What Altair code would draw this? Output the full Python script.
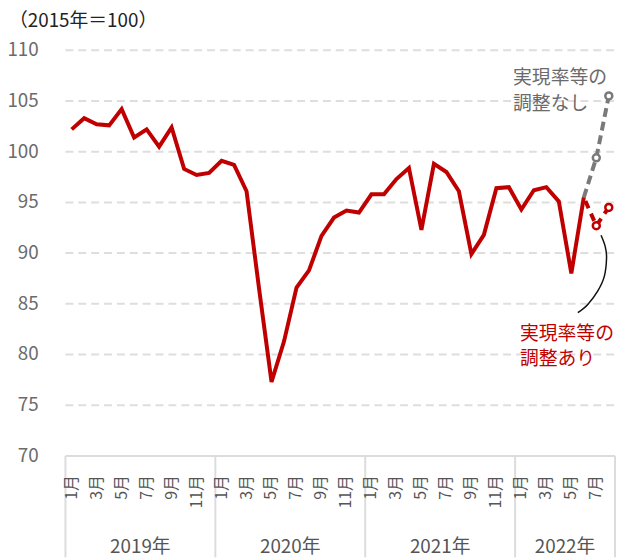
import altair as alt
import pandas as pd

FONT = "Noto Sans CJK JP"
RED = "#c00000"
GRAY = "#7a7a7a"

years = ["2019年", "2020年", "2021年", "2022年"]
year_lengths = [12, 12, 12, 8]
month_tick_labels = ["1月", "3月", "5月", "7月", "9月", "11月"]

# 2019/01 .. 2022/06 (実現率等の調整あり, 確報部分)
red_values = [
    102.2, 103.3, 102.7, 102.6, 104.2, 101.4, 102.2, 100.5, 102.4, 98.3, 97.7, 97.9,
    99.1, 98.7, 96.1, 86.5, 77.3, 81.3, 86.6, 88.3, 91.7, 93.5, 94.2, 94.0,
    95.8, 95.8, 97.3, 98.4, 92.3, 98.8, 98.0, 96.1, 89.9, 91.8, 96.4, 96.5,
    94.3, 96.2, 96.5, 95.1, 88.0, 95.5,
]
# 2022/06 .. 2022/08 予測
adj_forecast = [95.5, 92.7, 94.5]      # 実現率等の調整あり
noadj_forecast = [95.5, 99.4, 105.5]   # 実現率等の調整なし

y_ticks = [70, 75, 80, 85, 90, 95, 100, 105, 110]
grid_values = [75, 80, 85, 90, 95, 100, 105, 110]

# callout curve (month index, value)
callout_x = [42.38, 42.72, 42.82, 42.64, 42.11, 41.32, 40.52]
callout_y = [91.76, 90.62, 89.49, 87.70, 86.24, 84.94, 84.12]

# ---- tables ----
n_red = len(red_values)
df_red = pd.DataFrame({"m": list(range(n_red)), "v": red_values})
fx = [n_red - 1, n_red, n_red + 1]
df_adj = pd.DataFrame({"m": fx, "v": adj_forecast})
df_noadj = pd.DataFrame({"m": fx, "v": noadj_forecast})
df_callout = pd.DataFrame({"m": callout_x, "v": callout_y, "o": list(range(len(callout_x)))})

total = sum(year_lengths)
bounds = [-0.5]
for L in year_lengths:
    bounds.append(bounds[-1] + L)

year_rows, month_rows = [], []
start = 0
for yname, L in zip(years, year_lengths):
    year_rows.append({"m": start + (L - 1) / 2, "t": yname})
    for k in range(0, L, 2):
        month_rows.append({"m": start + k, "t": month_tick_labels[k // 2]})
    start += L
df_year = pd.DataFrame(year_rows)
df_month = pd.DataFrame(month_rows)
df_vsep = pd.DataFrame({"m": bounds, "v": [70] * len(bounds), "v2": [60] * len(bounds)})
df_top = pd.DataFrame({"m": [bounds[0]], "m2": [bounds[-1]], "v": [70]})
df_grid = pd.DataFrame({"m": [bounds[0]] * len(grid_values),
                        "m2": [bounds[-1]] * len(grid_values), "v": grid_values})
df_ylab = pd.DataFrame({"v": y_ticks, "t": [str(t) for t in y_ticks]})

xs = alt.Scale(domain=[-0.5, total - 0.5], nice=False, zero=False)
ys = alt.Scale(domain=[60, 110], nice=False, zero=False)

X = alt.X("m:Q", scale=xs, axis=None, title=None)
Y = alt.Y("v:Q", scale=ys, axis=None, title=None)

grid = alt.Chart(df_grid).mark_rule(
    color="#dedede", strokeWidth=2, strokeDash=[8, 5]).encode(x=X, x2="m2:Q", y=Y)
ylab = alt.Chart(df_ylab).mark_text(
    align="right", baseline="middle", font=FONT, fontSize=19, color="#6b6b6b"
).encode(x=alt.value(-27), y=Y, text="t:N")

box_top = alt.Chart(df_top).mark_rule(color="#dcdcdc", strokeWidth=2).encode(
    x=X, x2="m2:Q", y=Y)
box_sep = alt.Chart(df_vsep).mark_rule(color="#dcdcdc", strokeWidth=2).encode(
    x=X, y=Y, y2="v2:Q")

month_text = alt.Chart(df_month).mark_text(
    angle=270, align="right", baseline="middle", font=FONT, fontSize=16, color="#555555"
).encode(x=X, y=alt.value(429), text="t:N")

year_text = alt.Chart(df_year).mark_text(
    align="center", baseline="middle", font=FONT, fontSize=19, color="#555555"
).encode(x=X, y=alt.value(502), text="t:N")

noadj_line = alt.Chart(df_noadj).mark_line(
    color=GRAY, strokeWidth=4, strokeDash=[9, 5]).encode(x=X, y=Y)
noadj_pts = alt.Chart(df_noadj.iloc[1:]).mark_point(
    shape="circle", size=50, filled=True, fill="white", stroke=GRAY, strokeWidth=2.5, opacity=1
).encode(x=X, y=Y)

red_line = alt.Chart(df_red).mark_line(color=RED, strokeWidth=4).encode(x=X, y=Y)
adj_line = alt.Chart(df_adj).mark_line(
    color=RED, strokeWidth=4, strokeDash=[8, 6], strokeDashOffset=-4).encode(x=X, y=Y)
adj_pts = alt.Chart(df_adj.iloc[1:]).mark_point(
    shape="circle", size=50, filled=True, fill="white", stroke=RED, strokeWidth=2.5, opacity=1
).encode(x=X, y=Y)

callout = alt.Chart(df_callout).mark_line(
    color="#111111", strokeWidth=1.5, interpolate="cardinal"
).encode(x=X, y=Y, order="o:Q")


def label(text, px, py, color):
    return alt.Chart(pd.DataFrame({"t": [text]})).mark_text(
        align="left", baseline="middle", font=FONT, fontSize=19, color=color
    ).encode(x=alt.value(px), y=alt.value(py), text="t:N")


gray_label1 = label("実現率等の", 452, 28, "#6b6b6b")
gray_label2 = label("調整なし", 452, 54, "#6b6b6b")
red_label1 = label("実現率等の", 459, 287, RED)
red_label2 = label("調整あり", 459, 312, RED)

title_text = alt.Chart(pd.DataFrame({"t": ["（2015年＝100）"]})).mark_text(
    align="left", baseline="middle", font=FONT, fontSize=19, color="#222222"
).encode(x=alt.value(-57), y=alt.value(-30), text="t:N")

chart = alt.layer(
    grid, ylab, box_top, box_sep, month_text, year_text,
    noadj_line, noadj_pts, red_line, adj_line, adj_pts, callout,
    gray_label1, gray_label2, red_label1, red_label2, title_text,
).properties(
    width=555, height=512,
    background="white",
    autosize=alt.AutoSizeParams(type="none"),
    padding={"left": 58, "top": 40, "right": 4, "bottom": 0},
).configure_view(stroke="transparent", strokeWidth=0)

chart.save("out.html", embed_options={"renderer": "svg", "actions": False})
